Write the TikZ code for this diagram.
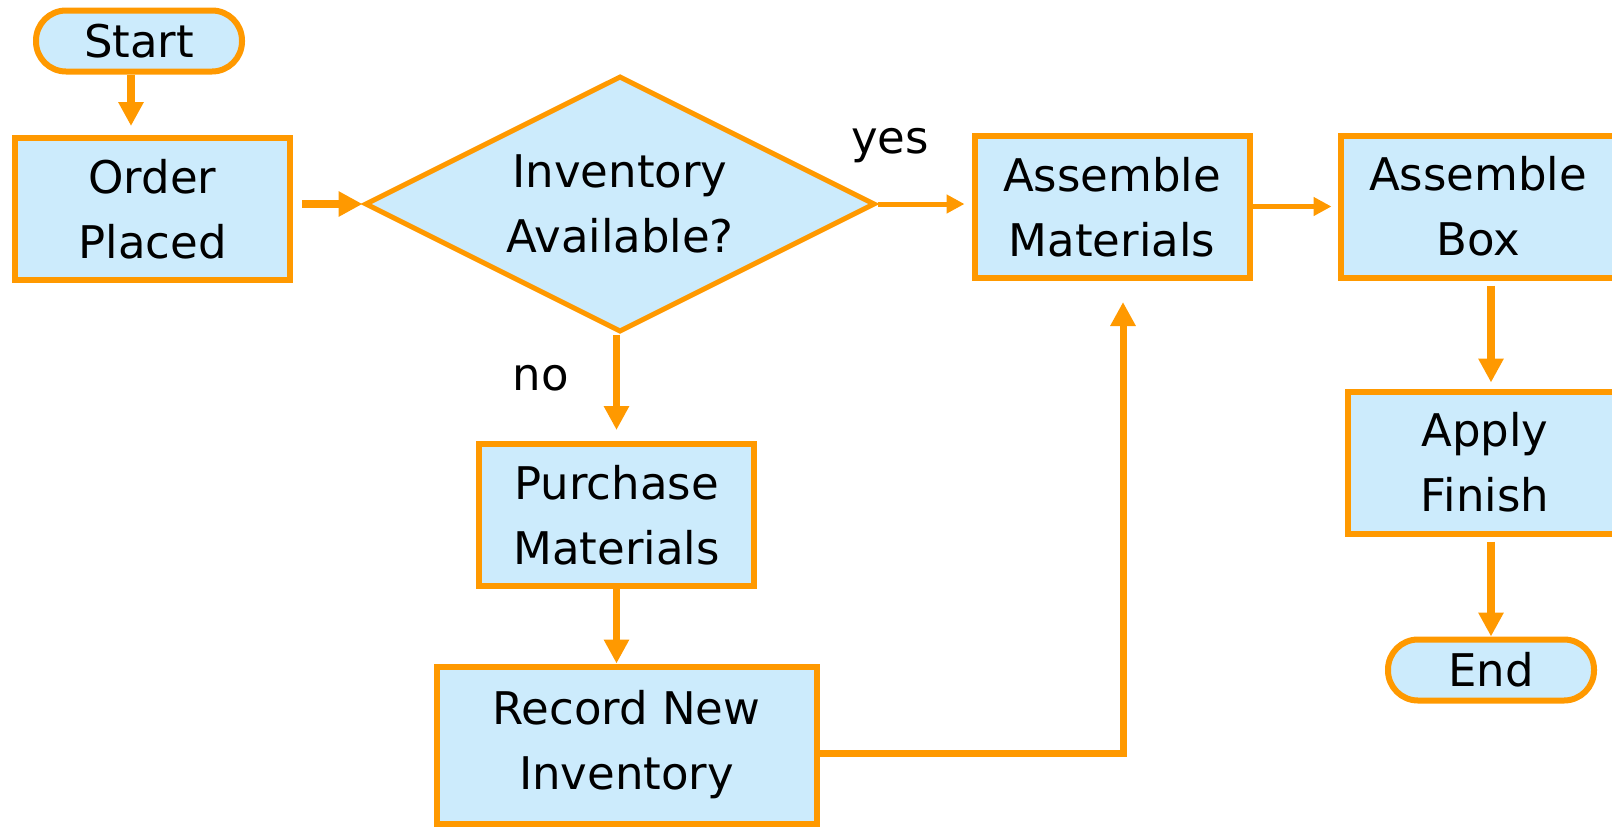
\documentclass[tikz,border=0pt]{standalone}
\usepackage{fontspec}
\setmainfont{DejaVu Sans}
\usetikzlibrary{shapes.geometric,arrows.meta}
\definecolor{flowfill}{RGB}{204,235,252}
\definecolor{floworange}{RGB}{255,153,0}

\begin{document}
\begin{tikzpicture}[x=0.5pt,y=-0.5pt,
    process/.style ={rectangle, draw=floworange, fill=flowfill, line width=3pt, align=center, inner sep=0pt,
        minimum width=137.5pt, minimum height=71pt, font=\fontsize{22.5}{32.5}\selectfont},
    terminal/.style ={rectangle, rounded corners=15pt, draw=floworange, fill=flowfill, line width=3pt, inner sep=0pt,
        minimum width=103pt, minimum height=30.5pt, font=\fontsize{22.5}{32.5}\selectfont},
    decision/.style ={diamond, aspect=2, draw=floworange, fill=flowfill, line width=2.5pt, align=center, inner sep=0pt,
        minimum width=255pt, minimum height=128pt, font=\fontsize{22.5}{32.5}\selectfont},
    answer/.style ={inner sep=0pt, font=\fontsize{22.5}{32.5}\selectfont},
    bigflow/.style ={-{Triangle[length=12pt,width=12pt]}, draw=floworange, line width=4pt},
    smallflow/.style ={-{Triangle[length=9pt,width=9pt]}, draw=floworange, line width=2.5pt}]
   \useasboundingbox (0,0) rectangle (1612,826);

   \node[terminal] (start) at (139,41) {Start};
   \node[process] (order) at (152.5,209) {Order\\Placed};
   \node[decision] (avail) at (620,204) {Inventory\\Available?};
   \node[process] (asmmat) at (1112,207) {Assemble\\Materials};
   \node[process] (asmbox) at (1478,206.5) {Assemble\\Box};
   \node[process] (finish) at (1485,462.5) {Apply\\Finish};
   \node[terminal] (stop) at (1491,670) {End};
   \node[process] (purchase) at (616.5,515) {Purchase\\Materials};
   \node[process, minimum width=190pt, minimum height=78.5pt] (record) at (626.5,745) {Record New\\Inventory};
   \node[answer] (yes) at (890,146) {yes};
   \node[answer] (no) at (541,378) {no};

   \coordinate (s1) at ([xshift=-4pt]start.south);
   \coordinate (r1) at ([yshift=-4pt]record.east);
   \coordinate (m1) at ([xshift=5.5pt]asmmat.south);

   \draw[bigflow, shorten >=4.5pt] (s1) to (s1 |- order.north);
   \draw[bigflow, shorten <=4.5pt] (order.east |- avail.west) to (avail.west);
   \draw[smallflow, shorten >=3.5pt] (avail.east) to (avail.east -| asmmat.west);
   \draw[smallflow, shorten >=3pt] (asmmat.east |- asmbox.west) to (asmbox.west);
   \draw[bigflow, line width=3.5pt, shorten >=5.5pt] (avail.south -| purchase.north) to (purchase.north);
   \draw[bigflow, line width=3.5pt] (purchase.south) to (purchase.south |- record.north);
   \draw[bigflow, shorten <=2.5pt, shorten >=3pt] (asmbox.south -| stop.north) to (finish.north -| stop.north);
   \draw[bigflow, shorten <=2.5pt] (finish.south -| stop.north) to (stop.north);
   \draw[bigflow, line width=3.5pt, shorten >=10.5pt] (r1) -| (m1);

 \end{tikzpicture}
\end{document}
